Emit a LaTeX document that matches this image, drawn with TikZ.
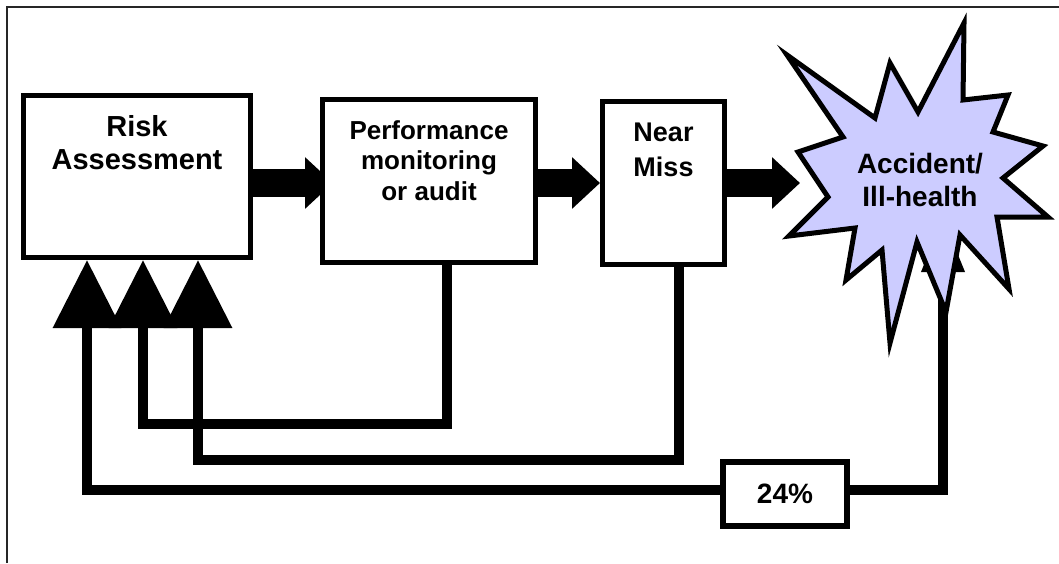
\documentclass[tikz,border=0pt]{standalone}
\usepackage{fontspec}
\setmainfont{Liberation Sans}
\usetikzlibrary{arrows.meta}
\usetikzlibrary{positioning}
\pgfdeclarelayer{background}
\pgfsetlayers{background,main}
\definecolor{burst}{RGB}{204,204,255}

\begin{document}
\begin{tikzpicture}[x=1pt,y=-1pt,
  box/.style={draw,line width=5pt,fill=white,inner sep=0pt},
  txt/.style={inner sep=0pt,align=center},
  blockarr/.style={line width=28pt,-{Triangle[width=50pt,length=28pt]}},
  feedback/.style={line width=10pt,-{Triangle[width=66pt,length=68pt]}}]
\useasboundingbox (0,0) rectangle (1059,563);
\draw[line width=1.5pt,black!85] (7,563) -- (7,7) -- (1059,7);

\node[box,minimum width=227pt,minimum height=162pt] (risk) at (137,176.5) {};
\node[box,minimum width=213pt,minimum height=163pt] (perf) at (429,181) {};
\node[box,minimum width=122pt,minimum height=163pt] (near) at (663.5,183) {};
\node[box,line width=6pt,minimum width=124pt,minimum height=64pt,
  font=\bfseries\fontsize{28}{33}\selectfont] (pct) at (785,494) {24\%};

\node[txt,font=\bfseries\fontsize{29}{33}\selectfont,below=22pt of risk.north] (risklbl) {Risk\\Assessment};
\node[txt,font=\bfseries\fontsize{26}{30.5}\selectfont,below=23pt of perf.north] (perflbl) {Performance\\monitoring\\or audit};
\node[txt,font=\bfseries\fontsize{27}{35}\selectfont,below=24pt of near.north] (nearlbl) {Near\\Miss};

\coordinate (accw) at (800,183);
\coordinate (acctip) at (943,217);

\begin{pgfonlayer}{background}
\draw[blockarr] (risk.east |- near) -- ([xshift=13pt]perf.west |- near);
\draw[blockarr] (perf.east |- near) -- (near.west);
\draw[blockarr] (near.east) -- (accw);

\draw[feedback] ([xshift=18pt]perf.south) -- ++(0,159) -| ([xshift=6pt]risk.south);
\draw[feedback] ([xshift=15pt]near.south) -- ++(0,193) -| ([xshift=61pt]risk.south);
\draw[feedback] ([yshift=4pt]pct.west) -| ([xshift=-50pt]risk.south);
\draw[line width=10pt,-{Triangle[width=41pt,length=55pt]}] ([yshift=4pt]pct.east) -| (acctip);
\end{pgfonlayer}

% the burst
\draw[line width=5pt,fill=burst] (787,55) -- (875,118) -- (890,63) -- (918,112)
  -- (964,23) -- (963,100) -- (1008,95) -- (993,132) -- (1043,146) -- (1003,178)
  -- (1048,217) -- (997,217) -- (1009,289) -- (960,235) -- (946,312) -- (917,242)
  -- (890,343) -- (882,250) -- (846,280) -- (855,228) -- (789,236) -- (828,197)
  -- (798,152) -- (843,137) -- cycle;
\node[txt,font=\bfseries\fontsize{28}{33}\selectfont] (acc) at (920,180) {Accident/\\Ill-health};
\end{tikzpicture}
\end{document}
